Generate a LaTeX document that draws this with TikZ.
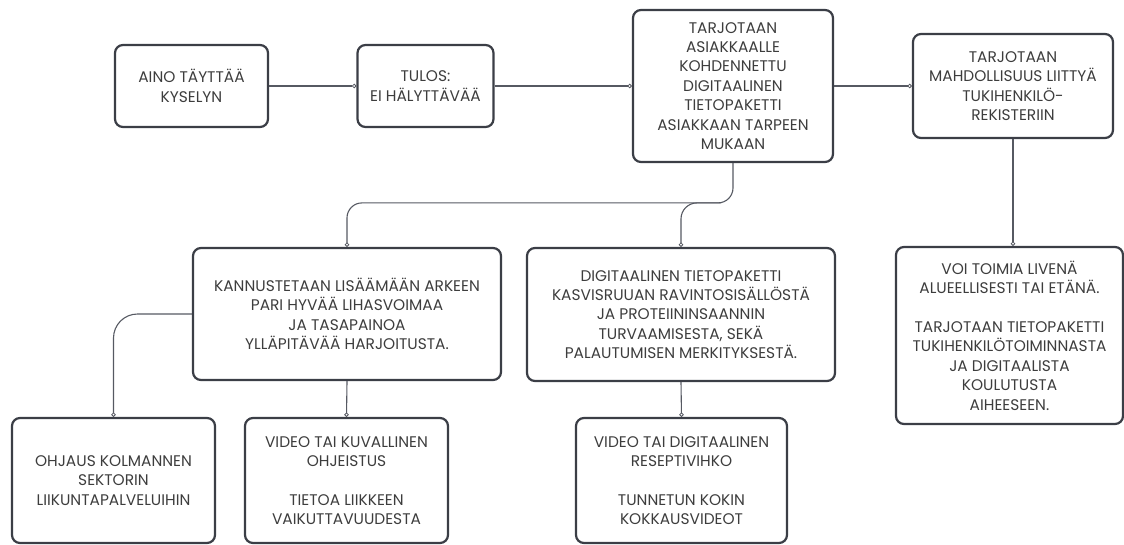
\documentclass[tikz,border=0pt]{standalone}
\usepackage{fontspec}
\setmainfont{Poppins}
\usetikzlibrary{arrows.meta}
\definecolor{boxline}{HTML}{3B3E46}
\definecolor{linkline}{HTML}{565962}
\definecolor{txt}{HTML}{3D3D3D}
\def\blankline{\\[19.4pt]}

\begin{document}
\begin{tikzpicture}[x=1pt, y=-1pt,
	box/.style={draw=boxline, line width=2.2pt, rounded corners=8pt, align=center, text=txt,
		font=\fontsize{15.4}{19.4}\selectfont, inner sep=0pt},
	link/.style={draw=linkline, line width=1.1pt, -{Circle[length=4.4pt, fill=white, line width=0.8pt]}}]
			%%%%% START %%%%%
			
			\useasboundingbox (0, 0) rectangle (1124, 544);
			
			\node[box, minimum width=153pt, minimum height=82pt] (aino) at (191.5, 86) {AINO TÄYTTÄÄ\\KYSELYN};
			\node[box, minimum width=136pt, minimum height=82pt] (tulos) at (425.5, 86) {TULOS:\\EI HÄLYTTÄVÄÄ};
			\node[box, minimum width=200pt, minimum height=152pt] (paketti) at (733, 86) {TARJOTAAN\\ASIAKKAALLE\\KOHDENNETTU\\DIGITAALINEN\\TIETOPAKETTI\\ASIAKKAAN TARPEEN\\MUKAAN};
			\node[box, minimum width=200pt, minimum height=104pt] (rekisteri) at (1013, 86) {TARJOTAAN\\MAHDOLLISUUS LIITTYÄ\\TUKIHENKILÖ-\\REKISTERIIN};
			
			\node[box, minimum width=308pt, minimum height=132pt] (harjoitus) at (347, 314) {KANNUSTETAAN LISÄÄMÄÄN ARKEEN\\PARI HYVÄÄ LIHASVOIMAA\\JA TASAPAINOA\\YLLÄPITÄVÄÄ HARJOITUSTA.};
			\node[box, minimum width=308pt, minimum height=133pt] (ravinto) at (681, 314.5) {DIGITAALINEN TIETOPAKETTI\\KASVISRUUAN RAVINTOSISÄLLÖSTÄ\\JA PROTEIININSAANNIN\\TURVAAMISESTA, SEKÄ\\PALAUTUMISEN MERKITYKSESTÄ.};
			\node[box, minimum width=227pt, minimum height=177pt] (tukihenkilo) at (1009.5, 335.5) {VOI TOIMIA LIVENÄ\\ALUEELLISESTI TAI ETÄNÄ.\blankline TARJOTAAN TIETOPAKETTI\\TUKIHENKILÖTOIMINNASTA\\JA DIGITAALISTA\\KOULUTUSTA\\AIHEESEEN.};
			
			\node[box, minimum width=203pt, minimum height=125pt] (ohjaus) at (113.5, 480.5) {OHJAUS KOLMANNEN\\SEKTORIN\\LIIKUNTAPALVELUIHIN};
			\node[box, minimum width=203pt, minimum height=125pt] (ohjeistus) at (346.5, 480.5) {VIDEO TAI KUVALLINEN\\OHJEISTUS\blankline TIETOA LIIKKEEN\\VAIKUTTAVUUDESTA};
			\node[box, minimum width=211pt, minimum height=125pt] (resepti) at (681.5, 480.5) {VIDEO TAI DIGITAALINEN\\RESEPTIVIHKO\blankline TUNNETUN KOKIN\\KOKKAUSVIDEOT};
			
			\draw[link] (aino.east) -- (tulos.west);
			\draw[link] (tulos.east) -- (paketti.west);
			\draw[link] (paketti.east) -- (rekisteri.west);
			\draw[link] (rekisteri.south) -- (rekisteri.south |- tukihenkilo.north);
			
			\draw[link, rounded corners=15pt] (paketti.south) |- ([yshift=44pt]harjoitus.north) -- (harjoitus.north);
			\draw[link, rounded corners=16pt] ([xshift=40pt, yshift=44pt]ravinto.north) -| (ravinto.north);
			\draw[link, rounded corners=24pt] (harjoitus.west) -| (ohjaus.north);
			\draw[link] (harjoitus.south) -- (ohjeistus.north);
			\draw[link] (ravinto.south) -- (resepti.north);
			
			%%%%% END %%%%%
\end{tikzpicture}
\end{document}
